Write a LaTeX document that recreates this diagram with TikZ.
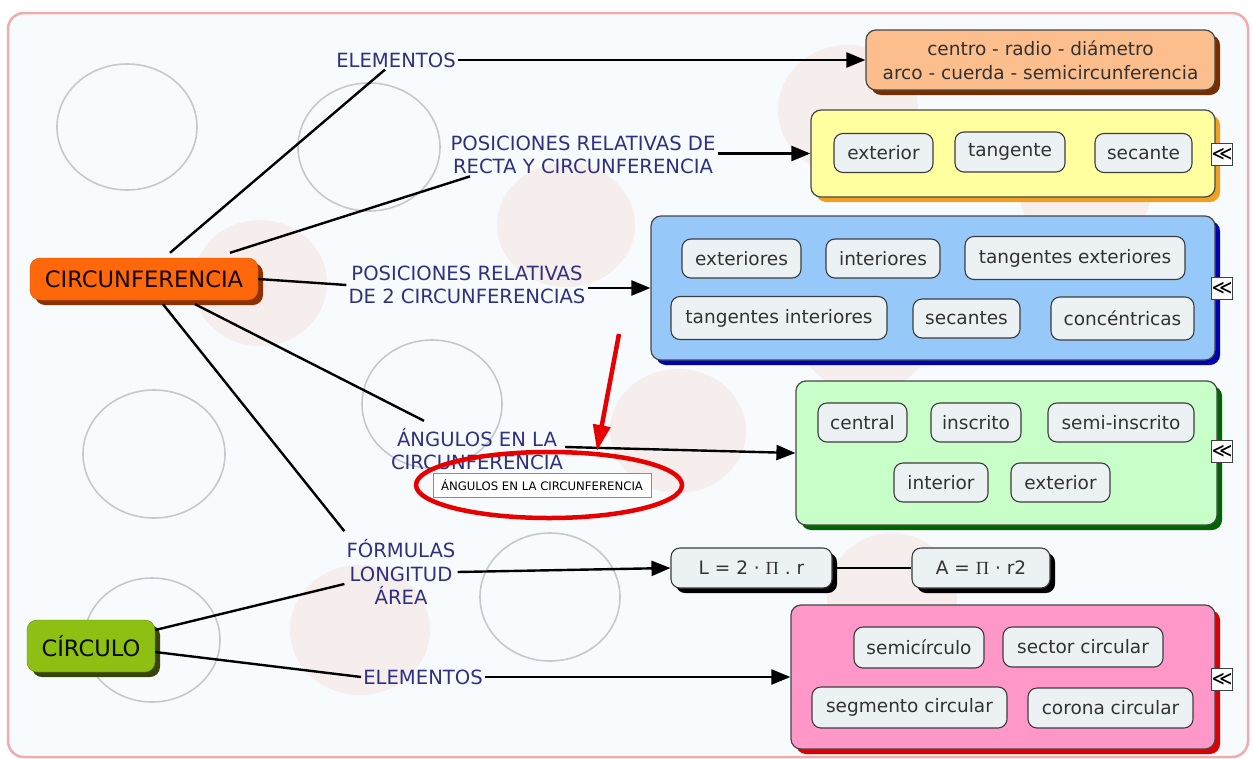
\documentclass[tikz,border=0pt]{standalone}
\usepackage{fontspec}
\setmainfont{DejaVu Sans}
\newfontfamily\serifpi{Liberation Serif}
\usetikzlibrary{arrows.meta,shadows,calc}
\definecolor{bgin}{RGB}{248,251,253}
\definecolor{bordr}{RGB}{240,172,172}
\definecolor{grayc}{RGB}{198,200,206}
\definecolor{palec}{RGB}{246,237,237}
\definecolor{labcol}{RGB}{48,48,128}
\definecolor{mainor}{RGB}{255,104,10}
\definecolor{mainorsh}{RGB}{140,50,0}
\definecolor{maingr}{RGB}{142,192,20}
\definecolor{maingrsh}{RGB}{58,68,10}
\definecolor{orbox}{RGB}{252,190,140}
\definecolor{orboxsh}{RGB}{120,45,0}
\definecolor{yebox}{RGB}{255,255,160}
\definecolor{yeboxsh}{RGB}{240,160,30}
\definecolor{blbox}{RGB}{150,200,250}
\definecolor{blboxsh}{RGB}{0,0,180}
\definecolor{grbox}{RGB}{200,255,200}
\definecolor{grboxsh}{RGB}{0,100,0}
\definecolor{pkbox}{RGB}{255,152,200}
\definecolor{pkboxsh}{RGB}{220,0,0}
\definecolor{pillfill}{RGB}{236,241,244}
\definecolor{pillline}{RGB}{60,60,60}
\definecolor{pilltext}{RGB}{50,50,50}
\definecolor{boxline}{RGB}{70,70,70}
\definecolor{annred}{RGB}{232,0,0}
\begin{document}
\begin{tikzpicture}[x=1pt,y=-1pt,
  shad/.style={drop shadow={shadow xshift=5pt,shadow yshift=-5pt,fill=#1,opacity=1}},
  bigbox/.style={draw=boxline,line width=1.2pt,rounded corners=10pt,inner sep=0pt},
  mainbox/.style={rounded corners=10pt,inner sep=0pt,font=\fontsize{22.6}{26}\selectfont},
  pill/.style={draw=pillline,fill=pillfill,line width=1.1pt,rounded corners=9pt,
    minimum height=39pt,inner sep=0pt,font=\fontsize{18.5}{22}\selectfont,text=pilltext},
  lab/.style={text=labcol,font=\fontsize{19.6}{23.5}\selectfont,align=center,inner sep=2pt},
  conn/.style={line width=2.4pt,black},
  arr/.style={conn,-{Triangle[length=19pt,width=15pt]}},
  marker/.style={draw=black!75,fill=white,line width=0.8pt,minimum width=20pt,
    minimum height=22pt,inner sep=0pt,font=\fontsize{20}{20}\selectfont},
  tipbox/.style={draw=black!45,fill=white,line width=0.8pt,minimum width=218pt,
    minimum height=24pt,inner sep=0pt,font=\fontsize{11.7}{13}\selectfont},
  grayring/.style={draw=grayc,line width=1.6pt},
  palering/.style={fill=palec}
]
\useasboundingbox (0,0) rectangle (1253,758);
\fill[white] (0,0) rectangle (1253,758);
\draw[bordr,fill=bgin,line width=2.5pt,rounded corners=16pt] (8,13) rectangle (1248,757);

% pale pink discs
\fill[palering] (260,283) ellipse [x radius=67,y radius=63];
\fill[palering] (566,225) ellipse [x radius=69,y radius=62];
\fill[palering] (848,110) ellipse [x radius=70,y radius=65];
\fill[palering] (1085,190) ellipse [x radius=66,y radius=62];
\fill[palering] (678,431) ellipse [x radius=68,y radius=62];
\fill[palering] (865,330) ellipse [x radius=68,y radius=62];
\fill[palering] (360,630) ellipse [x radius=70,y radius=65];
\fill[palering] (892,597) ellipse [x radius=65,y radius=64];

% gray rings
\draw[grayring] (127,127) ellipse [x radius=70,y radius=63];
\draw[grayring] (369,147) ellipse [x radius=71,y radius=64];
\draw[grayring] (154,454) ellipse [x radius=71,y radius=64];
\draw[grayring] (432,404) ellipse [x radius=70,y radius=64];
\draw[grayring] (550,597) ellipse [x radius=70,y radius=64];
\draw[grayring] (152,640) ellipse [x radius=68,y radius=62];

% main concepts
\node[mainbox,fill=mainor,draw=mainor!80!black,shad=mainorsh,text=black!85!mainorsh,
  minimum width=228pt,minimum height=42pt] (circ) at (144,279) {CIRCUNFERENCIA};
\node[mainbox,fill=maingr,draw=maingr!70!black,shad=maingrsh,text=black!85!maingrsh,
  minimum width=128pt,minimum height=52pt] (circulo) at (91,646) {CÍRCULO};

% link labels
\node[lab] (lab1) at (396,60) {ELEMENTOS};
\node[lab] (lab2) at (583,155) {POSICIONES RELATIVAS DE\\RECTA Y CIRCUNFERENCIA};
\node[lab] (lab3) at (467,285) {POSICIONES RELATIVAS\\DE 2 CIRCUNFERENCIAS};
\node[lab] (lab4) at (477,449) {ÁNGULOS EN LA\\CIRCUNFERENCIA};
\node[lab] (lab5) at (401,572) {FÓRMULAS\\LONGITUD\\ÁREA};
\node[lab] (lab6) at (423,677) {ELEMENTOS};

% target boxes
\node[bigbox,fill=orbox,shad=orboxsh,minimum width=349pt,minimum height=60pt,align=center,
  font=\fontsize{18.5}{24}\selectfont,text=pilltext] (orange) at (1040.5,60)
  {centro - radio - diámetro\\arco - cuerda - semicircunferencia};
\node[bigbox,fill=yebox,shad=yeboxsh,minimum width=404pt,minimum height=87pt] (yellow) at (1013,153.5) {};
\node[bigbox,fill=blbox,shad=blboxsh,minimum width=564pt,minimum height=144pt] (blue) at (933,288) {};
\node[bigbox,fill=grbox,shad=grboxsh,minimum width=421pt,minimum height=144pt] (greenbox) at (1006.5,453) {};
\node[bigbox,fill=pkbox,shad=pkboxsh,minimum width=424pt,minimum height=144pt] (pink) at (1003,677) {};
\node[pill,shad=black,minimum width=161pt,minimum height=40pt] (Lbox) at (751.5,568) {L = 2 · {\serifpi Π} . r};
\node[pill,shad=black,minimum width=138pt,minimum height=40pt] (Abox) at (981,568) {A = {\serifpi Π} · r2};

% pills
\node[pill,minimum width=99pt] (p1) at (883.5,153) {exterior};
\node[pill,minimum width=110pt,minimum height=40pt] (p2) at (1010,152) {tangente};
\node[pill,minimum width=97pt] (p3) at (1143.5,153) {secante};

\node[pill,minimum width=119pt] (q1) at (741.5,258.5) {exteriores};
\node[pill,minimum width=114pt] (q2) at (883,258.5) {interiores};
\node[pill,minimum width=220pt,minimum height=43pt] (q3) at (1075,258) {tangentes exteriores};
\node[pill,minimum width=216pt,minimum height=43pt] (q4) at (779,318) {tangentes interiores};
\node[pill,minimum width=107pt] (q5) at (966.5,318.5) {secantes};
\node[pill,minimum width=143pt,minimum height=43pt] (q6) at (1122.5,318.5) {concéntricas};

\node[pill,minimum width=89pt] (r1) at (862.5,422.5) {central};
\node[pill,minimum width=90pt] (r2) at (976,422.5) {inscrito};
\node[pill,minimum width=146pt] (r3) at (1121,422.5) {semi-inscrito};
\node[pill,minimum width=94pt] (r4) at (941,482.5) {interior};
\node[pill,minimum width=99pt] (r5) at (1060.5,482.5) {exterior};

\node[pill,minimum width=130pt,minimum height=41pt] (s1) at (919,647.5) {semicírculo};
\node[pill,minimum width=160pt,minimum height=40pt] (s2) at (1083,647) {sector circular};
\node[pill,minimum width=195pt,minimum height=41pt] (s3) at (909.5,707.5) {segmento circular};
\node[pill,minimum width=165pt,minimum height=40pt] (s4) at (1110.5,708) {corona circular};

% expand markers
\node[marker] (m1) at (1222,154) {≪};
\node[marker] (m2) at (1222,288) {≪};
\node[marker] (m3) at (1222,451) {≪};
\node[marker] (m4) at (1222,679) {≪};

% connectors
\draw[conn] ([xshift=26pt,yshift=5pt]circ.north) -- ([xshift=-11pt]lab1.south);
\draw[conn] ([xshift=86pt,yshift=5pt]circ.north) -- ([xshift=-113pt]lab2.south);
\draw[conn] (circ.east) -- (lab3.west);
\draw[conn] ([xshift=51pt,yshift=-4pt]circ.south) -- ([xshift=-53pt,yshift=5pt]lab4.north);
\draw[conn] ([xshift=19pt,yshift=-4pt]circ.south) -- ([yshift=6pt]lab5.north west);
\draw[conn] ([yshift=16pt]circulo.east) -- ([yshift=-12pt]lab5.west);
\draw[conn] ([yshift=-6pt]circulo.east) -- (lab6.west);

\draw[arr] (lab1.east) -- (orange.west);
\draw[arr] (lab2.east |- yellow.west) -- (yellow.west);
\draw[arr] (lab3.east |- blue.west) -- (blue.west);
\draw[arr] ([yshift=2pt]lab4.east) -- (greenbox.west);
\draw[arr] (lab5.east) -- (Lbox.west);
\draw[arr] (lab6.east) -- (pink.west);
\draw[line width=1.6pt] (Lbox.east) -- (Abox.west);

% annotation
\node[tipbox] (tooltip) at (542,485) {ÁNGULOS EN LA CIRCUNFERENCIA};
\draw[annred,line width=4.5pt] (549,485) ellipse [x radius=133,y radius=33];
\coordinate (redstart) at (619,334);
\coordinate (redtip) at (597,451);
\draw[annred,line width=4.5pt,-{Triangle[length=26pt,width=17pt]}] (redstart) -- (redtip);
\end{tikzpicture}
\end{document}
